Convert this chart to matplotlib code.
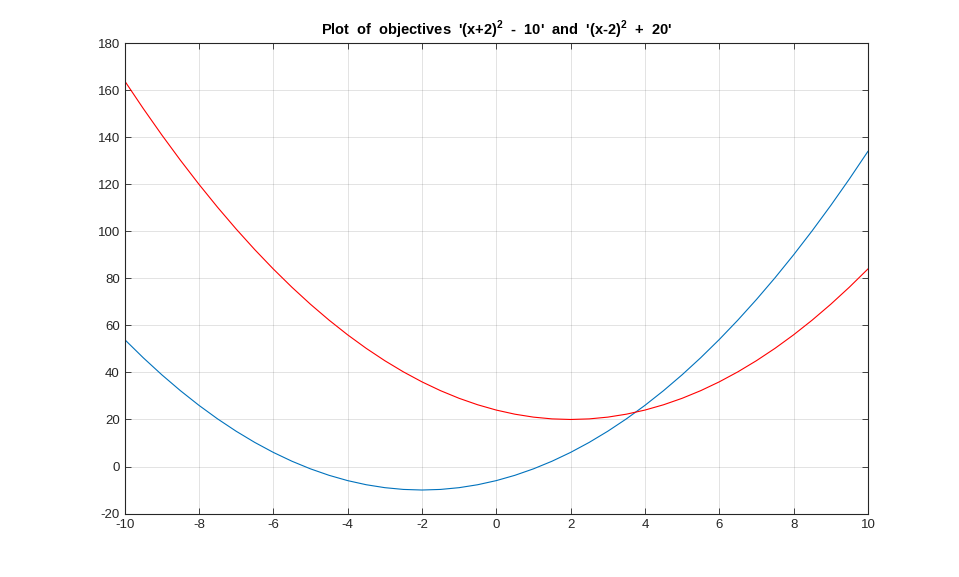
import matplotlib
matplotlib.use("Agg")
import matplotlib.pyplot as plt

x_vals = [-10, -9.5, -9, -8.5, -8, -7.5, -7, -6.5, -6, -5.5, -5, -4.5, -4, -3.5, -3, -2.5, -2,
          -1.5, -1, -0.5, 0, 0.5, 1, 1.5, 2, 2.5, 3, 3.5, 4, 4.5, 5, 5.5, 6, 6.5, 7, 7.5, 8,
          8.5, 9, 9.5, 10]
blue_vals = [54, 46.25, 39, 32.25, 26, 20.25, 15, 10.25, 6, 2.25, -1, -3.75, -6, -7.75, -9,
             -9.75, -10, -9.75, -9, -7.75, -6, -3.75, -1, 2.25, 6, 10.25, 15, 20.25, 26,
             32.25, 39, 46.25, 54, 62.25, 71, 80.25, 90, 100.25, 111, 122.25, 134]
red_vals = [164, 152.25, 141, 130.25, 120, 110.25, 101, 92.25, 84, 76.25, 69, 62.25, 56,
            50.25, 45, 40.25, 36, 32.25, 29, 26.25, 24, 22.25, 21, 20.25, 20, 20.25, 21,
            22.25, 24, 26.25, 29, 32.25, 36, 40.25, 45, 50.25, 56, 62.25, 69, 76.25, 84]
xticks = [-10, -8, -6, -4, -2, 0, 2, 4, 6, 8, 10]
yticks = [-20, 0, 20, 40, 60, 80, 100, 120, 140, 160, 180]

plt.rcParams['font.family'] = ['Liberation Sans', 'DejaVu Sans']
plt.rcParams['mathtext.fontset'] = 'custom'
plt.rcParams['mathtext.rm'] = 'Liberation Sans'
plt.rcParams['mathtext.bf'] = 'Liberation Sans:bold'

fig = plt.figure(figsize=(9.59, 5.77), dpi=100)
ax = fig.add_axes([0.13, 0.11, 0.775, 0.815])
ax.plot(x_vals, blue_vals, color='#0072BD', lw=0.8)
ax.plot(x_vals, red_vals, color='#FF0000', lw=0.8)
ax.set_xlim(-10, 10)
ax.set_ylim(-20, 180)
ax.set_xticks(xticks)
ax.set_yticks(yticks)
ax.set_xticklabels([str(t) for t in xticks])
ax.set_yticklabels([str(t) for t in yticks])
ax.grid(True, color='#262626', alpha=0.15, lw=0.6)
ax.set_axisbelow(True)
dark = '#262626'
for s in ax.spines.values():
    s.set_color(dark)
    s.set_linewidth(0.8)
ax.tick_params(direction='in', top=True, right=True, length=4, width=0.6,
               colors=dark, labelsize=9.5, labelcolor=dark)
ax.tick_params(axis='x', pad=4)
ax.set_title(r"Plot  of  objectives  '(x+2)$^\mathbf{2}$  -  10'  and  '(x-2)$^\mathbf{2}$  +  20'",
             fontsize=10.5, fontweight='bold', color='black', pad=6)
fig.savefig("out.png", dpi=100)
